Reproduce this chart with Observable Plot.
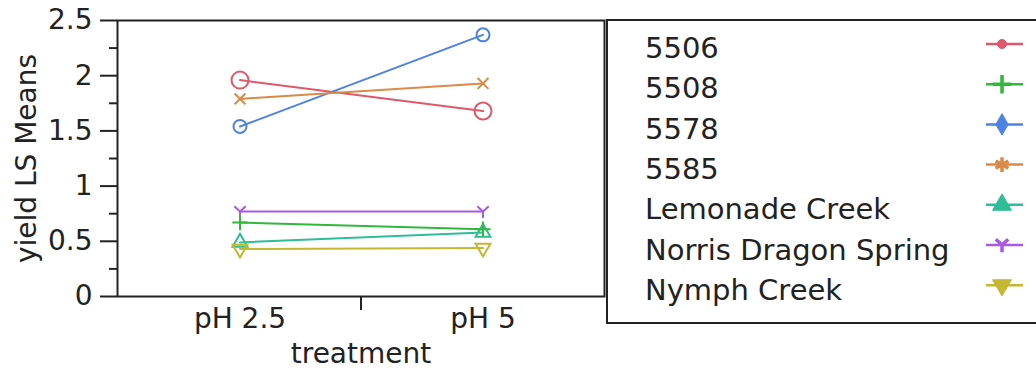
<!DOCTYPE html>
<html>
<head>
<meta charset="utf-8">
<script src="https://cdn.jsdelivr.net/npm/d3@7"></script>
<script src="https://cdn.jsdelivr.net/npm/@observablehq/plot@0.6"></script>
<style>
  body { margin: 0; background: #fff; }
  #chart { position: relative; width: 1036px; height: 371px; overflow: hidden; font-family: "DejaVu Sans", sans-serif; }
  #chart > svg.main { position: absolute; left: 0; top: 0; }
  #chart > svg.legend { position: absolute; left: 605px; top: 19px; }
</style>
</head>
<body>
<div id="chart"></div>
<script>
// LS means of yield by treatment, one line per site
const treatments = ["pH 2.5", "pH 5"];
const sites = ["5506", "5508", "5578", "5585", "Lemonade Creek", "Norris Dragon Spring", "Nymph Creek"];
const meansPH25 = [1.96, 0.67, 1.54, 1.79, 0.49, 0.77, 0.43];
const meansPH5  = [1.68, 0.61, 2.37, 1.93, 0.58, 0.77, 0.44];
const siteColors = ["#e0566a", "#2fb83c", "#4d83e0", "#d98a47", "#2dbd97", "#a85ae6", "#c4b833"];
const yTicks = [0, 0.5, 1, 1.5, 2, 2.5];
const yMinorTicks = [0.25, 0.75, 1.25, 1.75, 2.25];

// downward-pointing triangle (d3 only ships the upward one)
const symbolTriangleDown = {
  draw(context, size) {
    const s3 = Math.sqrt(3);
    const y = -Math.sqrt(size / (s3 * 3));
    context.moveTo(0, -y * 2);
    context.lineTo(-s3 * y, y);
    context.lineTo(s3 * y, y);
    context.closePath();
  }
};
// a "Y" drawn as three open strokes: two arms up, one stem down
const symbolWyeStroke = {
  draw(context, size) {
    const r = Math.sqrt(size / Math.PI) * 1.1;
    const a = Math.PI / 6;
    context.moveTo(0, 0); context.lineTo(0, r);
    context.moveTo(0, 0); context.lineTo(-r * Math.cos(a), -r * Math.sin(a) - r * 0.3);
    context.moveTo(0, 0); context.lineTo(r * Math.cos(a), -r * Math.sin(a) - r * 0.3);
  }
};
const plotSymbols = [d3.symbolCircle, d3.symbolPlus, d3.symbolCircle, d3.symbolTimes, d3.symbolTriangle, symbolWyeStroke, symbolTriangleDown];
const plotSizes = [8.5, 5, 6.5, 5, 5.5, 6, 5.5];
const legendSymbols = [d3.symbolCircle, d3.symbolPlus, d3.symbolDiamond, d3.symbolAsterisk, d3.symbolTriangle, symbolWyeStroke, symbolTriangleDown];
const legendFilled = [true, false, true, false, true, false, true];
const legendSizes = [4.5, 6, 6.5, 7, 7, 6.5, 7];

const rows = sites.flatMap((site, i) => [
  {site, treatment: treatments[0], yield: meansPH25[i], r: plotSizes[i]},
  {site, treatment: treatments[1], yield: meansPH5[i], r: plotSizes[i]}
]);

const ink = "#222";
const fontSize = 28;

const plot = Plot.plot({
  width: 1036,
  height: 371,
  marginLeft: 117,
  marginRight: 432,
  marginTop: 20,
  marginBottom: 75,
  className: "main",
  style: {fontFamily: "DejaVu Sans, sans-serif", fontSize: `${fontSize}px`, color: ink, background: "#fff"},
  x: {type: "band", domain: treatments, padding: 0},
  y: {domain: [0, 2.5]},
  color: {domain: sites, range: siteColors},
  symbol: {domain: sites, range: plotSymbols},
  r: {type: "identity"},
  marks: [
    Plot.axisY(yMinorTicks, {tickSize: 8, tickFormat: () => "", label: null, strokeWidth: 2}),
    Plot.axisY({ticks: yTicks, tickSize: 17, tickPadding: 8, strokeWidth: 2, tickFormat: d => String(d),
                label: "yield LS Means", labelAnchor: "center", labelArrow: "none", labelOffset: 101}),
    Plot.axisX({tickSize: 0, tickPadding: 12, label: "treatment", labelAnchor: "center",
                labelArrow: "none", labelOffset: 66}),
    Plot.line(rows, {x: "treatment", y: "yield", z: "site", stroke: "site", strokeWidth: 2}),
    Plot.dot(rows, {x: "treatment", y: "yield", stroke: "site", symbol: "site", r: "r", strokeWidth: 2, fill: "none"}),
    Plot.frame({stroke: ink, strokeWidth: 2})
  ]
});
plot.classList.add("main");

// short divider tick on the x axis between the two treatment bands
const xs = plot.scale("x");
const ys = plot.scale("y");
const divider = xs.apply(treatments[1]);
d3.select(plot).append("line")
  .attr("x1", divider).attr("x2", divider)
  .attr("y1", ys.apply(0)).attr("y2", ys.apply(0) + 14)
  .attr("stroke", ink).attr("stroke-width", 2);

const chart = document.getElementById("chart");
chart.appendChild(plot);

// legend box at the right: label then a line-with-marker swatch
const legend = d3.select(chart).append("svg")
  .attr("class", "legend")
  .attr("width", 440).attr("height", 306);
legend.append("rect")
  .attr("x", 2).attr("y", 1).attr("width", 460).attr("height", 303)
  .attr("fill", "#fff").attr("stroke", ink).attr("stroke-width", 2);
const item = legend.selectAll("g.item").data(sites).join("g").attr("class", "item");
item.append("text")
  .attr("x", 40)
  .attr("y", (d, i) => 39 + 40.3 * i)
  .attr("font-family", "DejaVu Sans, sans-serif")
  .attr("font-size", 29)
  .attr("fill", ink)
  .text(d => d);
item.append("line")
  .attr("x1", 381).attr("x2", 418)
  .attr("y1", (d, i) => 25 + 40.2 * i).attr("y2", (d, i) => 25 + 40.2 * i)
  .attr("stroke", (d, i) => siteColors[i]).attr("stroke-width", 2.5);
item.append("path")
  .attr("transform", (d, i) => `translate(397,${25 + 40.2 * i})`)
  .attr("d", (d, i) => d3.symbol(legendSymbols[i], Math.PI * legendSizes[i] ** 2)())
  .attr("fill", (d, i) => legendFilled[i] ? siteColors[i] : "none")
  .attr("stroke", (d, i) => siteColors[i])
  .attr("stroke-width", (d, i) => legendFilled[i] ? 1 : 3.5);
</script>
</body>
</html>
